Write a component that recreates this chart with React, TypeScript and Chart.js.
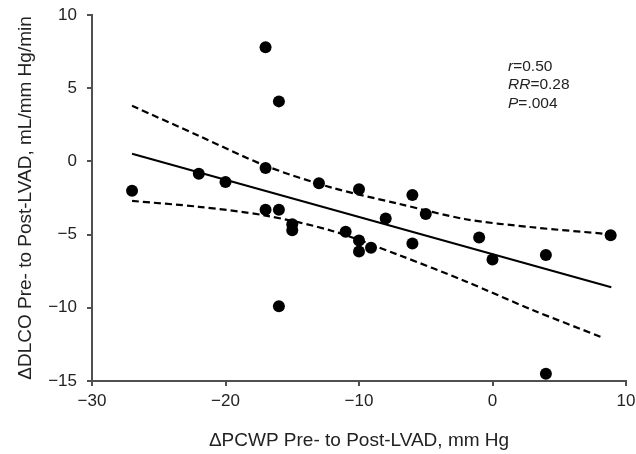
import { useEffect, useRef } from 'react';
import { Chart, registerables } from 'chart.js';

Chart.register(...registerables);

// Observed points: change in PCWP (x) vs change in DLCO (y)
const pcwpChange = [-27, -22, -20, -17, -16, -17, -13, -17, -16, -15, -15, -16, -11, -10, -10, -9.1, -10, -8, -6, -5, -6, -1, 0, 4, 8.85, 4];
const dlcoChange = [-2.0, -0.85, -1.4, 7.8, 4.1, -0.45, -1.5, -3.3, -3.3, -4.3, -4.7, -9.9, -4.8, -5.4, -6.15, -5.9, -1.9, -3.9, -2.3, -3.6, -5.6, -5.2, -6.7, -6.4, -5.05, -14.5];

// Regression line
const fitX = [-27, 8.9];
const fitY = [0.52, -8.6];

// Confidence band
const upperX = [-27, -22, -17, -12, -7, -2, 3, 8.5];
const upperY = [3.8, 1.75, -0.3, -1.8, -2.9, -3.95, -4.5, -4.95];
const lowerX = [-27, -22, -17, -12, -7, -2, 3, 8.3];
const lowerY = [-2.7, -3.1, -3.7, -4.75, -6.4, -8.2, -10.15, -12.05];

// Axis ranges
const xMin = -30, xMax = 10, xStep = 10;
const yMin = -15, yMax = 10, yStep = 5;

const statsItalic = ['r', 'RR', 'P'];
const statsRest = ['=0.50', '=0.28', '=.004'];

const xTitle = '\u0394PCWP Pre- to Post-LVAD, mm Hg';
const yTitle = '\u0394DLCO Pre- to Post-LVAD, mL/mm Hg/min';

const FONT = '"Liberation Sans", Arial, Helvetica, sans-serif';
const TEXT = '#222222';
const AXIS = '#505050';

const zip = (xs: number[], ys: number[]) => xs.map((x, i) => ({ x, y: ys[i] }));
const fmt = (v: number | string) => {
  const n = Number(v);
  return n < 0 ? '\u2212' + Math.abs(n) : String(n);
};

const statsPlugin = {
  id: 'statsText',
  afterDraw(chart: any) {
    const { ctx, chartArea } = chart;
    ctx.save();
    ctx.fillStyle = TEXT;
    ctx.textBaseline = 'alphabetic';
    ctx.textAlign = 'left';
    const x0 = chartArea.left + 416;
    let y = chartArea.top + 56;
    statsItalic.forEach((it, i) => {
      ctx.font = `italic 15.5px ${FONT}`;
      ctx.fillText(it, x0, y);
      const w = ctx.measureText(it).width;
      ctx.font = `15.5px ${FONT}`;
      ctx.fillText(statsRest[i], x0 + w, y);
      y += 18.3;
    });
    ctx.restore();
  },
};

export default function App() {
  const ref = useRef<HTMLCanvasElement>(null);

  useEffect(() => {
    if (!ref.current) return;
    Chart.defaults.font.family = FONT;
    Chart.defaults.color = TEXT;
    const chart = new Chart(ref.current, {
      type: 'scatter',
      data: {
        datasets: [
          {
            label: 'points',
            data: zip(pcwpChange, dlcoChange),
            backgroundColor: '#000',
            borderWidth: 0,
            pointRadius: 6,
            showLine: false,
          },
          {
            label: 'fit',
            data: zip(fitX, fitY),
            showLine: true,
            borderColor: '#000',
            borderWidth: 2,
            pointRadius: 0,
            fill: false,
          },
          {
            label: 'upper',
            data: zip(upperX, upperY),
            showLine: true,
            borderColor: '#000',
            borderWidth: 2.2,
            borderDash: [7, 4],
            pointRadius: 0,
            tension: 0.3,
            fill: false,
          },
          {
            label: 'lower',
            data: zip(lowerX, lowerY),
            showLine: true,
            borderColor: '#000',
            borderWidth: 2.2,
            borderDash: [7, 4],
            pointRadius: 0,
            tension: 0.3,
            fill: false,
          },
        ],
      },
      options: {
        animation: false,
        responsive: false,
        devicePixelRatio: 1,
        layout: { padding: { top: 15, right: 10, bottom: 0, left: 0 }, autoPadding: false },
        plugins: { legend: { display: false }, tooltip: { enabled: false } },
        scales: {
          x: {
            type: 'linear',
            min: xMin,
            max: xMax,
            ticks: { stepSize: xStep, callback: fmt, font: { size: 17 }, color: TEXT, padding: 5, maxRotation: 0 },
            grid: { drawOnChartArea: false, drawTicks: true, tickLength: 5, color: AXIS, lineWidth: 2 },
            border: { display: true, color: AXIS, width: 2 },
            title: { display: true, text: xTitle, font: { size: 19 }, color: TEXT, padding: { top: 0, bottom: 2 } },
            afterFit: (s: any) => { s.height = 73; s.paddingLeft = 0; s.paddingRight = 0; },
          },
          y: {
            type: 'linear',
            min: yMin,
            max: yMax,
            ticks: { stepSize: yStep, callback: fmt, font: { size: 17 }, color: TEXT, padding: 10 },
            grid: { drawOnChartArea: false, drawTicks: true, tickLength: 5, color: AXIS, lineWidth: 2 },
            border: { display: true, color: AXIS, width: 2 },
            title: { display: true, text: yTitle, font: { size: 19 }, color: TEXT, padding: { top: 14, bottom: 0 } },
            afterFit: (s: any) => { s.width = 92; s.paddingTop = 0; s.paddingBottom = 0; },
          },
        },
      } as any,
      plugins: [statsPlugin],
    });
    return () => chart.destroy();
  }, []);

  return (
    <div style={{ position: 'fixed', left: 0, top: 0, width: 636, height: 454, background: '#fff' }}>
      <canvas ref={ref} width={636} height={454} style={{ display: 'block' }} />
    </div>
  );
}
